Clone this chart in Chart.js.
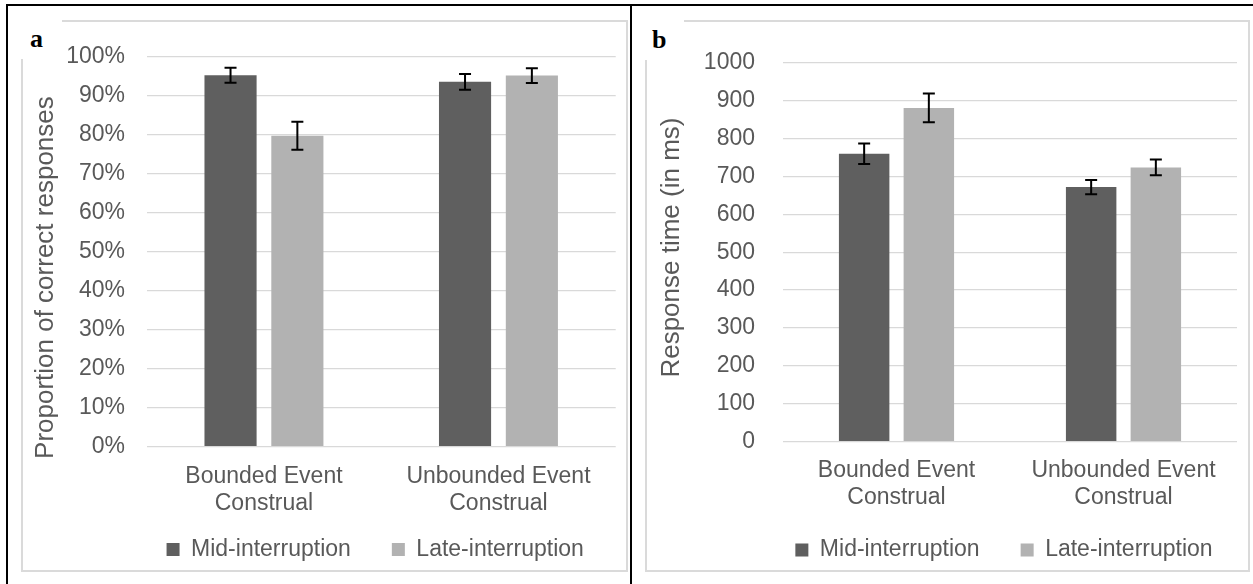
<!DOCTYPE html>
<html lang="en">
<head>
<meta charset="UTF-8">
<title>Interruption results</title>
<script src="https://cdn.jsdelivr.net/npm/chart.js"></script>
<style>
    body { margin: 0; background: #fff; }
    #page { position: relative; width: 1253px; height: 584px; overflow: hidden; font-family: "Liberation Sans", Arial, sans-serif; }
    .rule { position: absolute; background: #000; }
    .box { position: absolute; box-sizing: border-box; border: 2px solid #dadada; }
    .plot { position: absolute; }
    .tag { position: absolute; background: #fff; z-index: 5; }
    .tag span { position: absolute; font: bold 26px "Liberation Serif", "Times New Roman", serif; line-height: 1; color: #000; }
</style>
</head>
<body>
<div id="page">
    <div class="rule" style="left:6px;top:4px;width:1247px;height:2px"></div>
    <div class="rule" style="left:6px;top:4px;width:2px;height:580px"></div>
    <div class="rule" style="left:630px;top:4px;width:2px;height:580px"></div>

    <div class="box" style="left:21px;top:20px;width:607px;height:552px"></div>
    <div class="plot" style="left:22px;top:21px;width:604px;height:550px"><canvas id="chartA"></canvas></div>
    <div class="tag" style="left:8px;top:6px;width:54px;height:53px"><span style="left:22px;top:20px">a</span></div>

    <div class="box" style="left:645px;top:20px;width:605px;height:552px"></div>
    <div class="plot" style="left:646px;top:21px;width:603px;height:550px"><canvas id="chartB"></canvas></div>
    <div class="tag" style="left:632px;top:6px;width:52px;height:54px"><span style="left:20px;top:21px">b</span></div>
</div>

<script>
    // categories and series
    const categories = [['Bounded Event', 'Construal'], ['Unbounded Event', 'Construal']];
    const seriesNames = ['Mid-interruption', 'Late-interruption'];

    // panel a: proportion correct (%)
    const accMid = [95.2, 93.5];
    const accLate = [79.7, 95.1];
    const accMidErr = [1.9, 2.0];
    const accLateErr = [3.6, 1.9];

    // panel b: response time (ms)
    const rtMid = [760, 672];
    const rtLate = [881, 724];
    const rtMidErr = [27, 19];
    const rtLateErr = [38, 21];

    const darkGray = '#5f5f5f';
    const lightGray = '#b2b2b2';
    const textGray = '#595959';

    Chart.defaults.font.family = '"Liberation Sans", Arial, sans-serif';
    Chart.defaults.color = textGray;

    // error bars from the bar elements and the y scale
    const errorBars = {
        id: 'errorBars',
        afterDatasetsDraw(chart, args, opts) {
            const ctx = chart.ctx;
            const yScale = chart.scales.y;
            ctx.save();
            ctx.strokeStyle = '#000';
            ctx.lineWidth = 2;
            chart.data.datasets.forEach((ds, i) => {
                const meta = chart.getDatasetMeta(i);
                meta.data.forEach((bar, j) => {
                    const v = ds.data[j];
                    const e = opts.errors[i][j];
                    const top = yScale.getPixelForValue(v + e);
                    const bottom = yScale.getPixelForValue(v - e);
                    ctx.beginPath();
                    ctx.moveTo(bar.x, top);
                    ctx.lineTo(bar.x, bottom);
                    ctx.moveTo(bar.x - 6, top);
                    ctx.lineTo(bar.x + 6, top);
                    ctx.moveTo(bar.x - 6, bottom);
                    ctx.lineTo(bar.x + 6, bottom);
                    ctx.stroke();
                });
            });
            ctx.restore();
        }
    };

    // rotated y title, placed like the original
    const sideTitle = {
        id: 'sideTitle',
        afterDraw(chart, args, opts) {
            const {ctx, chartArea} = chart;
            ctx.save();
            ctx.translate(opts.x, (chartArea.top + chartArea.bottom) / 2 + opts.shift);
            ctx.rotate(-Math.PI / 2);
            ctx.font = '26px "Liberation Sans", Arial, sans-serif';
            ctx.fillStyle = textGray;
            ctx.textAlign = 'center';
            ctx.textBaseline = 'middle';
            ctx.fillText(opts.text, 0, 0);
            ctx.restore();
        }
    };

    // centre the legend under the plot area and pull its top up under the labels
    const legendShift = {
        id: 'legendShift',
        afterLayout(chart, args, opts) {
            const lg = chart.legend;
            const target = (chart.chartArea.left + chart.chartArea.right) / 2 + opts.offset;
            const d = target - (lg.left + lg.right) / 2;
            lg.left += d;
            lg.right += d;
            lg.top += opts.dy;
            lg.height -= opts.dy;
        }
    };

    function makeChart(id, mid, late, midErr, lateErr, yOpts, layout) {
        return new Chart(document.getElementById(id), {
            type: 'bar',
            data: {
                labels: categories,
                datasets: [
                    { label: seriesNames[0], data: mid, backgroundColor: darkGray },
                    { label: seriesNames[1], data: late, backgroundColor: lightGray }
                ]
            },
            options: {
                responsive: true,
                maintainAspectRatio: false,
                animation: false,
                categoryPercentage: 0.57,
                barPercentage: 0.78,
                layout: { padding: { top: layout.top, right: layout.right, bottom: 0, left: 0 } },
                plugins: {
                    tooltip: { enabled: false },
                    legend: {
                        position: 'bottom',
                        maxHeight: 44,
                        labels: { boxWidth: 13, boxHeight: 13, padding: 41, font: { size: 23 }, color: textGray }
                    },
                    errorBars: { errors: [midErr, lateErr] },
                    sideTitle: { text: layout.title, x: layout.titleX, shift: layout.titleShift },
                    legendShift: { offset: -6, dy: layout.legendDy }
                },
                scales: {
                    x: {
                        grid: { display: false, drawTicks: false },
                        border: { display: false },
                        ticks: { font: { size: 23, lineHeight: 27.5 / 23 }, padding: layout.xPad, color: textGray },
                        afterFit(s) { s.height = layout.xHeight; }
                    },
                    y: Object.assign({
                        min: 0,
                        grid: { color: '#d9d9d9', lineWidth: 1.3, drawTicks: false },
                        border: { display: false },
                        afterFit(s) { s.width = layout.yWidth; }
                    }, yOpts)
                }
            },
            plugins: [errorBars, sideTitle, legendShift]
        });
    }

    makeChart('chartA', accMid, accLate, accMidErr, accLateErr, {
        max: 100,
        ticks: { stepSize: 10, font: { size: 23 }, padding: 21.7, color: textGray, callback: v => v + '%' }
    }, {
        top: 29, right: 10.3, xHeight: 80.3, xPad: 15.8, yWidth: 124.7, legendDy: -30,
        title: 'Proportion of correct responses', titleX: 23.6, titleShift: 26
    });

    makeChart('chartB', rtMid, rtLate, rtMidErr, rtLateErr, {
        max: 1000,
        ticks: { stepSize: 100, font: { size: 23 }, padding: 28, color: textGray, callback: v => String(v) }
    }, {
        top: 20.7, right: 12, xHeight: 85.3, xPad: 14.8, yWidth: 137, legendDy: -29.5,
        title: 'Response time (in ms)', titleX: 25.6, titleShift: -4.7
    });
</script>
</body>
</html>
